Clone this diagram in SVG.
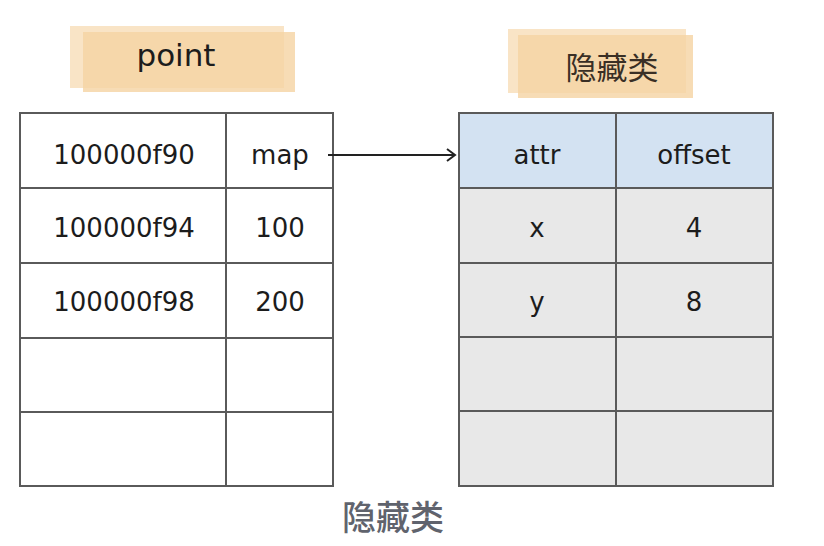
<svg xmlns="http://www.w3.org/2000/svg" width="824" height="546" viewBox="0 0 824 546">
<style>
.grid{fill:none;stroke:#5a5a5a;stroke-width:2}
.t{font-family:"DejaVu Sans","Liberation Sans",sans-serif;font-size:26px;fill:#1c1c1c;text-anchor:middle;dominant-baseline:central}
.tag1{fill:#f9e4c6}
.tag2{fill:#f5d3a3;opacity:0.8}
.cap{font-family:"Noto Sans CJK SC",sans-serif;font-size:34px;font-weight:500;fill:#60636d;text-anchor:middle}
</style>
<defs>
<marker id="ah" markerWidth="12" markerHeight="14" refX="10" refY="7" orient="auto" markerUnits="userSpaceOnUse">
<path d="M2,1 L10,7 L2,13" fill="none" stroke="#222" stroke-width="2"/>
</marker>
</defs>
<rect width="824" height="546" fill="#fff"/>
<g id="point-label">
<rect class="tag1" x="70" y="26" width="214" height="62"/>
<rect class="tag2" x="83" y="32" width="212" height="60"/>
<text class="t" x="176" y="55" style="font-size:31px">point</text>
</g>
<g id="hidden-label">
<rect class="tag1" x="508" y="29" width="178" height="64"/>
<rect class="tag2" x="518" y="35" width="175" height="63"/>
<text class="t" x="612" y="65" style="font-family:'Noto Sans CJK SC',sans-serif;font-size:31px;fill:#3a2f25">隐藏类</text>
</g>
<g id="point-table">
<rect x="20" y="113" width="313" height="373" fill="#fff"/>
<path class="grid" d="M20,113H333V486H20Z M226,113V486 M20,188H333 M20,263H333 M20,338H333 M20,412H333"/>
<text class="t" x="124" y="155">100000f90</text>
<text class="t" x="280" y="155">map</text>
<text class="t" x="124" y="228">100000f94</text>
<text class="t" x="280" y="228">100</text>
<text class="t" x="124" y="302">100000f98</text>
<text class="t" x="280" y="302">200</text>
</g>
<g id="hidden-table">
<rect x="459" y="113" width="314" height="373" fill="#e8e8e8"/>
<rect x="459" y="113" width="314" height="75" fill="#d3e2f2"/>
<path class="grid" d="M459,113H773V486H459Z M616,113V486 M459,188H773 M459,263H773 M459,337H773 M459,411H773"/>
<text class="t" x="537" y="155">attr</text>
<text class="t" x="694" y="155">offset</text>
<text class="t" x="537" y="228">x</text>
<text class="t" x="694" y="228">4</text>
<text class="t" x="537" y="302">y</text>
<text class="t" x="694" y="302">8</text>
</g>
<g id="connectors">
<path d="M328,155 L455,155" stroke="#222" stroke-width="2" fill="none" marker-end="url(#ah)"/>
</g>
<text class="cap" x="393" y="530">隐藏类</text>
</svg>
